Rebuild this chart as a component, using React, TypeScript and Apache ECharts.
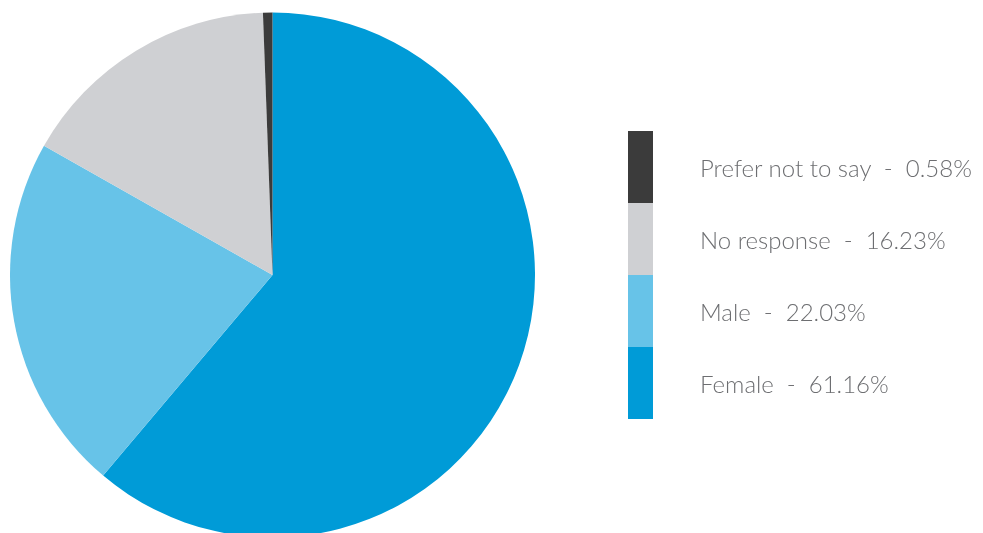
import React, { useEffect, useRef } from "react";
import * as echarts from "echarts";

const categories = ["Female", "Male", "No response", "Prefer not to say"];
const values = [61.16, 22.03, 16.23, 0.58];
const colors = ["#009bd7", "#67c3e8", "#cfd0d3", "#3b3b3b"];
const legendOrder = ["Prefer not to say", "No response", "Male", "Female"];

export default function App() {
  const ref = useRef<HTMLDivElement>(null);
  useEffect(() => {
    if (!ref.current) return;
    const chart = echarts.init(ref.current, null, { renderer: "svg" });
    const valueOf: Record<string, number> = {};
    categories.forEach((c, i) => (valueOf[c] = values[i]));
    chart.setOption({
      animation: false,
      color: colors,
      legend: {
        orient: "vertical",
        left: 628,
        top: 131,
        padding: 0,
        itemWidth: 25,
        itemHeight: 72,
        itemGap: 0,
        icon: "rect",
        selectedMode: false,
        data: legendOrder,
        formatter: (name: string) => `${name}  -  ${valueOf[name].toFixed(2)}%`,
        textStyle: {
          fontFamily: "Lato",
          fontWeight: 300,
          fontSize: 24,
          color: "#6d6e71",
          padding: [0, 0, 0, 42],
        },
      },
      series: [
        {
          type: "pie",
          center: [272.5, 275],
          radius: 262.5,
          startAngle: 90,
          clockwise: true,
          label: { show: false },
          labelLine: { show: false },
          itemStyle: { borderWidth: 0 },
          emphasis: { disabled: true },
          data: categories.map((c, i) => ({ name: c, value: values[i] })),
        },
      ],
    });
    return () => chart.dispose();
  }, []);
  return (
    <div
      ref={ref}
      style={{ position: "fixed", left: 0, top: 0, width: 983, height: 533 }}
    />
  );
}
